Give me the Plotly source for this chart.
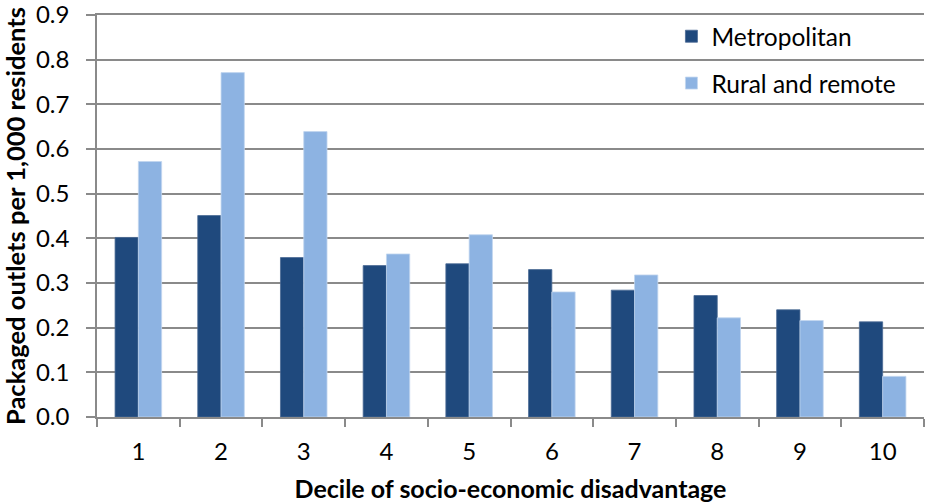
import plotly.graph_objects as go

categories = ["1", "2", "3", "4", "5", "6", "7", "8", "9", "10"]
metropolitan = [0.402, 0.451, 0.357, 0.339, 0.343, 0.330, 0.284, 0.272, 0.240, 0.213]
rural_remote = [0.572, 0.771, 0.639, 0.365, 0.408, 0.280, 0.318, 0.222, 0.216, 0.091]
y_max = 0.9
y_step = 0.1

FONT = "Lato"
GRID = "#8a8a8a"

fig = go.Figure()
fig.add_trace(go.Bar(
    x=categories, y=metropolitan, name="Metropolitan",
    marker=dict(color="#1F497D", line=dict(color="#4a6a94", width=0.8)),
    legendgroup="m",
))
fig.add_trace(go.Bar(
    x=categories, y=rural_remote, name="Rural and remote",
    marker=dict(color="#8DB3E2", line=dict(color="#c2d6ef", width=0.8)),
    legendgroup="r",
))

fig.update_layout(
    width=925, height=503,
    margin=dict(l=97, r=1, t=15, b=86, autoexpand=False),
    paper_bgcolor="white", plot_bgcolor="white",
    font=dict(family=FONT, size=24, color="black"),
    barmode="group", bargap=0.437, bargroupgap=0,
    showlegend=True,
    legend=dict(
        x=0.6946, y=1.003, xanchor="left", yanchor="top",
        bgcolor="rgba(0,0,0,0)", font=dict(family=FONT, size=24.5, color="black"),
        tracegroupgap=12, itemwidth=30,
    ),
    xaxis=dict(
        type="category", automargin=False,
        showline=True, mirror=True, linecolor=GRID, linewidth=1.5,
        ticks="outside", tickson="boundaries", ticklen=8, tickcolor=GRID, tickwidth=1.5,
        showgrid=False,
        tickfont=dict(family=FONT, size=24, color="black"),
        ticklabelstandoff=12,
        title=dict(text="<b>Decile of socio-economic disadvantage</b>",
                   font=dict(family=FONT, size=25, color="black"), standoff=18),
    ),
    yaxis=dict(
        automargin=False,
        range=[0, y_max], tickmode="linear", tick0=0, dtick=y_step,
        tickformat=".1f", ticklabeloverflow="allow",
        showline=True, linecolor=GRID, linewidth=1.5,
        ticks="outside", ticklen=9, tickcolor=GRID, tickwidth=1.5,
        showgrid=True, gridcolor=GRID, gridwidth=1.5,
        zeroline=False,
        tickfont=dict(family=FONT, size=24, color="black"),
        ticklabelstandoff=12,
        title=dict(text="<b>Packaged outlets per 1,000 residents</b>",
                   font=dict(family=FONT, size=25.5, color="black"), standoff=6),
    ),
)

fig.write_html("out.html")
